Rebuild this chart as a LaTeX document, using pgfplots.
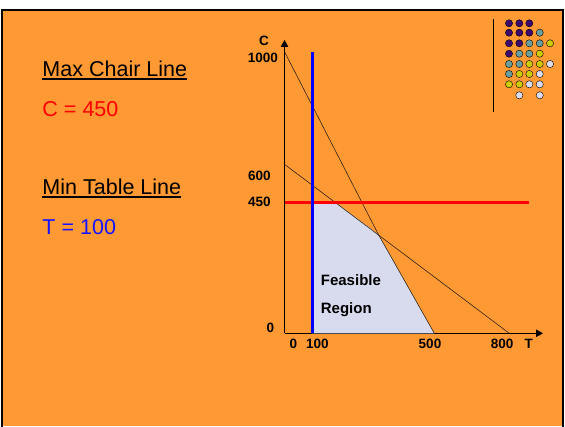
\documentclass[border=0pt]{standalone}
\usepackage{fontspec}
\setmainfont{Liberation Sans}
\usepackage{pgfplots}
\pgfplotsset{compat=1.18}
\usetikzlibrary{arrows.meta}
\definecolor{slide}{RGB}{255,153,51}
\definecolor{lav}{RGB}{216,218,238}
\definecolor{dpurple}{RGB}{60,10,110}
\definecolor{dteal}{RGB}{104,158,158}
\definecolor{dyellow}{RGB}{204,204,0}
\definecolor{dlav}{RGB}{220,220,240}
\definecolor{tblue}{RGB}{20,20,255}
\definecolor{lineclr}{RGB}{50,35,20}
\begin{document}
\begin{tikzpicture}[x=1bp,y=1bp]
\useasboundingbox (0,0) rectangle (565,426);
\fill[white] (0,0) rectangle (565,426);
\fill[slide] (1.9,0) rectangle (563,415.7);
\draw[black, line width=2bp] (1.9,-3) -- (1.9,415.7) -- (563,415.7) -- (563,-3);
% left text
\tikzset{big/.style={anchor=base west, inner sep=0pt, font=\fontsize{21.5bp}{25bp}\selectfont}}
\node[big] (h1) at (42.3,350) {Max Chair Line};
\draw[line width=1.4bp] ([yshift=-3bp]h1.base west) -- ([yshift=-3bp]h1.base east);
\node[big, text=red] at (42.3,310) {C = 450};
\node[big] (h2) at (42.3,232) {Min Table Line};
\draw[line width=1.4bp] ([yshift=-3bp]h2.base west) -- ([yshift=-3bp]h2.base east);
\node[big, text=tblue] at (42.3,192) {T = 100};
% decorative line
\draw[line width=1bp] (493.3,406.7) -- (493.3,313.7);
% decorative dots (page pixel coordinates)
\begin{axis}[at={(0bp,0bp)}, anchor=south west, scale only axis, width=565bp, height=426bp,
  xmin=0, xmax=565, ymin=0, ymax=426, y dir=reverse, hide axis, clip=false,
  dots/.style={only marks, mark=*, mark size=3.6bp, draw=none, fill=#1, mark options={draw=none, fill=#1}}]
\addplot[dots=dpurple] coordinates {
 (509,23.3) (519.3,23.3) (529.3,23.3)
 (509,32.7) (519.3,32.7) (529.3,32.7)
 (509,43.3) (519.3,43.3)
 (509,53.7)};
\addplot[dots=dteal] coordinates {
 (539.7,32.7)
 (529.3,43.3) (539.7,43.3)
 (519.3,53.7) (529.3,53.7)
 (509,64) (519.3,64)
 (509,74)};
\addplot[dots=dyellow] coordinates {
 (550,43.3)
 (539.7,53.7)
 (529.3,64) (539.7,64)
 (519.3,74) (529.3,74)
 (509,84.3) (519.3,84.3)};
\addplot[dots=dlav] coordinates {
 (550,64)
 (539.7,74)
 (529.3,84.3) (539.7,84.3)
 (519.3,95.3) (539.7,95.3)};
\end{axis}
% main chart
\begin{axis}[at={(284.5bp,92.7bp)}, anchor=south west, scale only axis,
  width=258.5bp, height=293.3bp,
  xmin=0, xmax=862.8, ymin=0, ymax=1041.5,
  axis lines=left,
  axis line style={line width=0.9bp, -{Triangle[length=7bp,width=7.5bp]}},
  xtick=\empty, ytick=\empty, clip=false]
\addplot[fill=lav, draw=none] coordinates {(93,0) (93,465) (170,465) (313,351.6) (500,0)} -- cycle;
\addplot[lineclr, line width=0.6bp] coordinates {(0,1000) (313,351.6) (500,0)};
\addplot[lineclr, line width=0.6bp] coordinates {(0,600) (750,0)};
\addplot[red, line width=2.8bp] coordinates {(0,465) (816,465)};
\addplot[blue, line width=3.2bp] coordinates {(93,0) (93,1000)};
\tikzset{lab/.style={inner sep=0pt, font=\bfseries\fontsize{13.5bp}{15bp}\selectfont}}
\node[lab, anchor=east] at (axis cs:-21.7,976.6) {1000};
\node[lab, anchor=east] at (axis cs:-46,558.6) {600};
\node[lab, anchor=east] at (axis cs:-46,465) {450};
\node[lab, anchor=east] at (axis cs:-34,17.8) {0};
\node[lab] at (axis cs:-68.4,1039) {C};
\node[lab] at (axis cs:29.4,-39) {0};
\node[lab] at (axis cs:110,-39) {100};
\node[lab] at (axis cs:485.6,-39) {500};
\node[lab] at (axis cs:726,-39) {800};
\node[lab] at (axis cs:815,-39) {T};
\node[lab, anchor=base west, font=\bfseries\fontsize{15bp}{17bp}\selectfont] at (axis cs:120.8,168) {Feasible};
\node[lab, anchor=base west, font=\bfseries\fontsize{15bp}{17bp}\selectfont] at (axis cs:120.8,71) {Region};
\end{axis}
\end{tikzpicture}
\end{document}
